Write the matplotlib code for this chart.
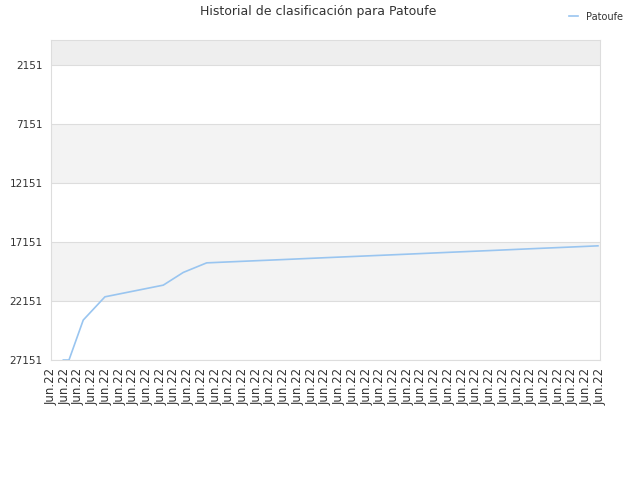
import matplotlib
matplotlib.use("Agg")
import matplotlib.pyplot as plt

# Ranking history (lower rank is better, axis inverted)
x_labels = ["Jun.22"] * 41
pos = [0.90, 1.31, 2.35, 3.93, 8.18, 9.64, 11.34, 14.0, 17.0, 20.0, 23.0, 26.0, 29.0, 32.0, 35.0, 38.0, 39.85]
rank = [27151, 27151, 23760, 21790, 20800, 19720, 18910, 18775, 18625, 18470, 18320, 18170, 18015, 17865, 17710, 17560, 17465]
y_ticks = [2151, 7151, 12151, 17151, 22151, 27151]
y_top = 1

TXT = "#333333"
GRID = "#dddddd"

fig = plt.figure(figsize=(6.4, 4.8), dpi=100)
ax = fig.add_axes([51 / 640, 1 - 360 / 480, 549 / 640, 320 / 480])

# alternating bands
ax.axhspan(y_top, y_ticks[0], color="#eeeeee", zorder=0, lw=0)
for lo, hi in zip(y_ticks[1:-1:2], y_ticks[2::2]):
    ax.axhspan(lo, hi, color="#f3f3f3", zorder=0, lw=0)
for t in y_ticks:
    ax.axhline(t, color=GRID, lw=0.8, zorder=1)

ax.plot(pos, rank, color="#99c5f0", lw=1.2, label="Patoufe", zorder=3)

ax.set_ylim(y_ticks[-1], y_top)
ax.set_xlim(0, len(x_labels) - 1)
ax.set_yticks(y_ticks)
ax.set_yticklabels([str(t) for t in y_ticks], fontsize=7.5, color=TXT)
ax.set_xticks(range(len(x_labels)))
ax.set_xticklabels(x_labels, rotation=90, fontsize=8.5, color=TXT)
ax.tick_params(length=0, pad=6)
for s in ax.spines.values():
    s.set_color(GRID)

fig.text(318 / 640, 1 - 12 / 480, "Historial de clasificación para Patoufe",
         ha="center", va="center", fontsize=9, color=TXT)
fig.legend(loc="upper right", bbox_to_anchor=(632 / 640, 1 - 3 / 480), frameon=False,
           fontsize=7, handlelength=1.0, handletextpad=0.8, labelcolor=TXT)

fig.savefig("out.png", dpi=100, facecolor="white")
